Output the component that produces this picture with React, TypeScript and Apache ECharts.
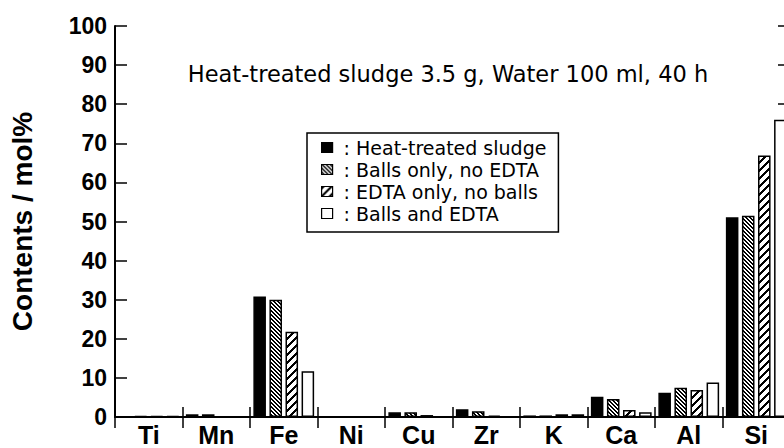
import React, { useEffect, useRef } from "react";
import * as echarts from "echarts";

const elements = ["Ti", "Mn", "Fe", "Ni", "Cu", "Zr", "K", "Ca", "Al", "Si"];
const heatTreated = [0.1, 0.7, 30.8, 0, 1.2, 2.0, 0.4, 5.2, 6.2, 51.1];
const ballsOnly = [0.2, 0.7, 30.0, 0, 1.2, 1.5, 0.4, 4.6, 7.5, 51.5];
const edtaOnly = [0.2, 0.1, 21.8, 0, 0.5, 0.35, 0.7, 1.8, 6.9, 66.9];
const ballsAndEdta = [0.2, 0.1, 11.7, 0, 0.1, 0.1, 0.7, 1.2, 8.8, 76.0];

const seriesNames = [
  "Heat-treated sludge",
  "Balls only, no EDTA",
  "EDTA only, no balls",
  "Balls and EDTA",
];
const titleText = "Heat-treated sludge 3.5 g, Water 100 ml, 40 h";
const yName = "Contents / mol%";

function makeTile(size: number, isInk: (x: number, y: number) => boolean) {
  const c = document.createElement("canvas");
  c.width = size;
  c.height = size;
  const ctx = c.getContext("2d")!;
  ctx.fillStyle = "#fff";
  ctx.fillRect(0, 0, size, size);
  ctx.fillStyle = "#000";
  for (let y = 0; y < size; y++) {
    for (let x = 0; x < size; x++) {
      if (isInk(x, y)) ctx.fillRect(x, y, 1, 1);
    }
  }
  return c;
}

export default function App() {
  const ref = useRef<HTMLDivElement>(null);
  useEffect(() => {
    if (!ref.current) return;
    const chart = echarts.init(ref.current, undefined, { renderer: "svg" });
    const dense = makeTile(4, (x, y) => (((x - y) % 4) + 4) % 4 < 2);
    const sparse = makeTile(8, (x, y) => (x + y) % 8 < 3);
    const border = { borderColor: "#000", borderWidth: 1.5 };
    const mk = (name: string, data: number[], itemStyle: any) => ({
      name,
      type: "bar",
      data,
      xAxisIndex: 0,
      yAxisIndex: 0,
      barGap: "28%",
      barCategoryGap: "10%",
      itemStyle: { ...border, ...itemStyle },
      emphasis: { disabled: true },
    });
    chart.setOption({
      animation: false,
      grid: { left: 115, right: 10, top: 26, bottom: 31 },
      graphic: [
        {
          type: "text",
          x: 448,
          y: 62,
          style: {
            text: titleText,
            fontSize: 22.5,
            fontFamily: "DejaVu Sans",
            fill: "#000",
            align: "center",
            verticalAlign: "top",
          },
        },
      ],
      legend: {
        left: 307,
        top: 133,
        orient: "vertical",
        padding: [5, 12, 9, 14],
        itemGap: 3,
        itemWidth: 11,
        itemHeight: 10,
        borderColor: "#000",
        borderWidth: 1.5,
        icon: "rect",
        selectedMode: false,
        itemStyle: { borderWidth: 1.2 },
        data: seriesNames,
        formatter: (name: string) => `{c|:} ${name}`,
        textStyle: {
          fontFamily: "DejaVu Sans",
          fontSize: 19,
          color: "#000",
          rich: {
            c: { fontFamily: "DejaVu Sans", fontSize: 19, color: "#000", padding: [0, 0, 0, 6] },
          },
        },
      },
      xAxis: [
        {
          type: "category",
          data: elements,
          position: "bottom",
          axisLine: { show: true, lineStyle: { color: "#000", width: 2 } },
          axisTick: { show: true, inside: true, length: 10, alignWithLabel: false, lineStyle: { color: "#000", width: 1.5 } },
          axisLabel: { fontSize: 25, fontWeight: "bold", fontFamily: "Liberation Sans", color: "#000", margin: 5 },
          splitLine: { show: false },
        },
        {
          type: "category",
          data: elements,
          position: "top",
          axisLine: { show: true, lineStyle: { color: "#000", width: 2 } },
          axisTick: { show: true, inside: true, length: 11, alignWithLabel: false, lineStyle: { color: "#000", width: 1.5 } },
          axisLabel: { show: false },
          splitLine: { show: false },
        },
      ],
      yAxis: [
        {
          type: "value",
          position: "left",
          min: 0,
          max: 100,
          interval: 10,
          name: yName,
          nameLocation: "middle",
          nameGap: 79,
          nameTextStyle: { fontSize: 28, fontWeight: "bold", fontFamily: "Liberation Sans", color: "#000" },
          axisLine: { show: true, lineStyle: { color: "#000", width: 2 } },
          axisTick: { show: true, inside: true, length: 12, lineStyle: { color: "#000", width: 1.5 } },
          axisLabel: { fontSize: 23, fontWeight: "bold", fontFamily: "Liberation Sans", color: "#000", margin: 8 },
          splitLine: { show: false },
        },
        {
          type: "value",
          position: "right",
          min: 0,
          max: 100,
          interval: 10,
          axisLine: { show: true, lineStyle: { color: "#000", width: 2 } },
          axisTick: { show: true, inside: true, length: 12, lineStyle: { color: "#000", width: 1.5 } },
          axisLabel: { show: false },
          splitLine: { show: false },
        },
      ],
      series: [
        mk(seriesNames[0], heatTreated, { color: "#000" }),
        mk(seriesNames[1], ballsOnly, { color: { image: dense, repeat: "repeat" } }),
        mk(seriesNames[2], edtaOnly, { color: { image: sparse, repeat: "repeat" } }),
        mk(seriesNames[3], ballsAndEdta, { color: "#fff" }),
      ],
    });
    return () => chart.dispose();
  }, []);
  return (
    <div style={{ position: "fixed", left: 0, top: 0, width: 784, height: 448, overflow: "hidden", background: "#fff" }}>
      <div ref={ref} style={{ width: 800, height: 448 }} />
    </div>
  );
}
